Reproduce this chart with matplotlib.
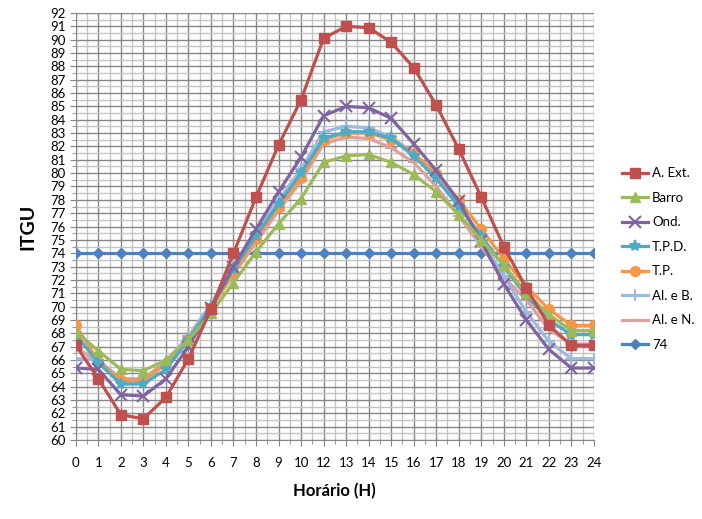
import matplotlib
matplotlib.use("Agg")
import matplotlib.pyplot as plt
from matplotlib.ticker import MultipleLocator

#----- Data -----
hours = [ "0", "1", "2", "3", "4", "5", "6", "7", "8", "9", "10", "12",
          "13", "14", "15", "16", "17", "18", "19", "20", "21", "22", "23", "24" ]

a_ext = [ 67.1, 64.6, 61.9, 61.6, 63.2, 66.1, 69.8, 74.0, 78.2, 82.1, 85.5, 90.1,
          91.0, 90.9, 89.8, 87.9, 85.1, 81.8, 78.2, 74.5, 71.4, 68.6, 67.1, 67.1 ]
barro = [ 68.1, 66.7, 65.3, 65.2, 66.0, 67.5, 69.5, 71.8, 74.1, 76.2, 78.1, 80.8,
          81.3, 81.4, 80.8, 79.9, 78.6, 76.9, 75.0, 73.1, 71.0, 69.4, 68.2, 68.2 ]
ond = [ 65.4, 65.3, 63.4, 63.3, 64.6, 67.0, 69.9, 73.0, 75.8, 78.6, 81.2, 84.3,
        85.0, 84.9, 84.1, 82.2, 80.2, 77.9, 74.9, 71.7, 69.0, 66.8, 65.4, 65.4 ]
tpd = [ 67.9, 65.8, 64.2, 64.2, 65.3, 67.5, 70.0, 72.8, 75.3, 77.7, 80.0, 82.6,
        83.1, 83.1, 82.6, 81.3, 79.6, 77.5, 75.3, 73.0, 70.8, 69.0, 67.9, 67.9 ]
tp = [ 68.6, 65.9, 64.5, 64.5, 65.8, 67.6, 69.9, 72.5, 75.1, 77.5, 79.6, 82.5,
       83.0, 83.0, 82.5, 81.5, 80.0, 78.0, 75.8, 73.6, 71.5, 69.8, 68.6, 68.6 ]
al_b = [ 66.1, 66.0, 64.6, 64.6, 65.9, 67.8, 70.2, 73.1, 75.6, 78.0, 80.3, 83.1,
         83.5, 83.4, 82.7, 81.5, 79.8, 77.7, 75.0, 72.3, 69.6, 67.4, 66.1, 66.1 ]
al_n = [ 67.0, 65.8, 64.4, 64.4, 65.7, 67.6, 69.9, 72.4, 74.8, 77.2, 79.4, 82.2,
         82.7, 82.6, 81.9, 80.8, 79.0, 76.8, 74.5, 72.2, 70.5, 68.3, 67.2, 67.2 ]
limit = [ 74 ] * len( hours )

series = [ a_ext, barro, ond, tpd, tp, al_b, al_n, limit ]
labels = [ "A. Ext.", "Barro", "Ond.", "T.P.D.", "T.P.", "Al. e B.", "Al. e N.", "74" ]
colours = [ "#C0504D", "#9BBB59", "#8064A2", "#4BACC6", "#F79646", "#9DB9DD", "#E0A09E", "#4F81BD" ]
markers = [ "s", "^", "x", "*", "o", "+", "_", "D" ]
msizes = [ 7, 7, 8, 8, 7, 9, 8, 5 ]

#----- Plot -----
plt.rcParams.update({ "font.family": ["Lato", "DejaVu Sans"], "font.size": 9.5 })

fig = plt.figure( figsize=(7.02,5.19), dpi=100 )
ax = fig.add_axes( [0.108, 0.152, 0.738, 0.823] )

for i in range(len( series )):
	ax.plot( hours, series[i], label=labels[i], color=colours[i], marker=markers[i],
	         ms=msizes[i], mew=1.5 if markers[i] in "x+_*" else 1, lw=2.3, zorder=10-i )

ax.set_xlim( 0, len( hours ) - 1 )
ax.set_ylim( 60, 92 )
ax.yaxis.set_major_locator( MultipleLocator(1) )
ax.yaxis.set_minor_locator( MultipleLocator(0.5) )
ax.xaxis.set_minor_locator( MultipleLocator(0.5) )
ax.grid( which="major", color="#868686", lw=1.0 )
ax.grid( which="minor", color="#C4C4C4", lw=1.0 )
ax.set_axisbelow( True )

for s in [ "top", "right" ]:
	ax.spines[s].set_visible( False )
for s in [ "left", "bottom" ]:
	ax.spines[s].set_color( "#868686" )
ax.tick_params( which="both", direction="out", color="#868686", length=4 )
ax.tick_params( which="minor", length=3 )
ax.tick_params( axis="x", pad=8 )

ax.set_xlabel( "Horário (H)", fontsize=12, fontweight="bold", labelpad=10 )
ax.set_ylabel( "ITGU", fontsize=14, fontweight="bold", labelpad=10 )

#--- Legend to the right, slightly below the middle ---
ax.legend( loc="center left", bbox_to_anchor=(1.031, 0.424), frameon=False,
           handlelength=2.0, handletextpad=0.3, labelspacing=0.95, fontsize=9.5 )

plt.savefig( "out.png", dpi=100 )
